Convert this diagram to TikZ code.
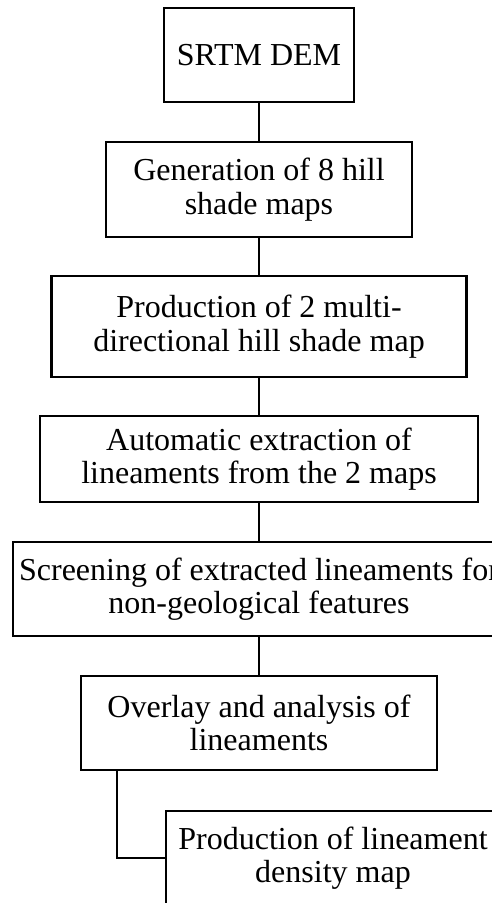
\documentclass[tikz,border=0pt]{standalone}
\usepackage{fontspec}
\setmainfont{Liberation Serif}
\usepackage{tikz}

\tikzset{
  stepbox/.style={draw, line width=2pt, align=center, inner sep=0pt,
    font=\fontsize{24}{25}\selectfont},
  link/.style={line width=2pt}
}

\begin{document}
\begin{tikzpicture}[x=0.75pt,y=0.75pt,yscale=-1,xscale=1]
    \useasboundingbox (0,0) rectangle (492,903);
    \clip (0,0) rectangle (492,903);

    % Text Node
    \draw (259,55) node [stepbox, minimum width=142.5pt, minimum height=70.5pt] (srtm) {SRTM DEM};
    % Text Node
    \draw (259,189.5) node [stepbox, minimum width=229.5pt, minimum height=71.25pt] (hill) {Generation of 8 hill\\shade maps};
    % Text Node
    \draw (259,326.5) node [stepbox, minimum width=311.25pt, minimum height=75.75pt] (multi) {Production of 2 multi-\\directional hill shade map};
    % Text Node
    \draw (259,459) node [stepbox, minimum width=328.5pt, minimum height=64.5pt] (extract) {Automatic extraction of\\lineaments from the 2 maps};
    % Text Node
    \draw (259,589) node [stepbox, minimum width=369pt, minimum height=70.5pt] (screen) {Screening of extracted lineaments for\\non-geological features};
    % Text Node
    \draw (259,723) node [stepbox, minimum width=267pt, minimum height=70.5pt] (overlay) {Overlay and analysis of\\lineaments};
    % Text Node
    \draw (333,858) node [stepbox, minimum width=250.5pt, minimum height=70.5pt] (density) {Production of lineament\\density map};

    %Straight Lines
    \draw [link] (srtm) -- (hill);
    \draw [link] (hill) -- (multi);
    \draw [link] (multi) -- (extract);
    \draw [link] (extract) -- (screen);
    \draw [link] (screen) -- (overlay);
    %Straight Lines
    \coordinate (bend) at (117,857);
    \draw [link] (overlay.south -| bend) |- (density.west);
\end{tikzpicture}
\end{document}
